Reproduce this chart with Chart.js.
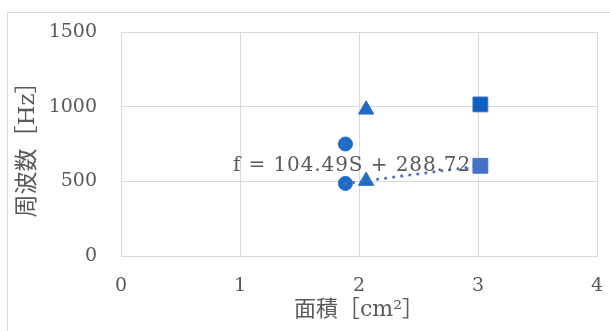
<!DOCTYPE html>
<html>
<head>
<meta charset="utf-8">
<script src="https://cdn.jsdelivr.net/npm/chart.js@4"></script>
<style>
  html, body { margin: 0; padding: 0; background: #fff; overflow: hidden; }
  #wrap { position: relative; width: 610px; height: 331px; }
  #frame { position: absolute; left: 7px; top: 12px; width: 640px; height: 360px; border: 1px solid #d9d9d9; }
  canvas { position: absolute; left: 0; top: 0; }
</style>
</head>
<body>
<div id="wrap">
  <div id="frame"></div>
  <canvas id="chart" width="610" height="331"></canvas>
</div>
<script>
// data
const xTicks = [0, 1, 2, 3, 4];
const yTicks = [0, 500, 1000, 1500];

const area = [1.886, 2.06, 3.02];          // 面積 [cm²]
const freqUpper = [750, 980, 1015];        // 周波数 [Hz]
const freqLower = [486, 503, 604];
const shapes = ['circle', 'triangle', 'rect'];

// trendline as printed on the chart
const slope = 104.49;
const intercept = 288.72;
const eqText = 'f = 104.49S + 288.72';

const fontFamily = "'DejaVu Serif', 'Noto Sans CJK JP', serif";
const textColor = '#595959';
const gridColor = '#d9d9d9';

const upperFill = ['#1f6bc6', '#1f6bc6', '#0c5fbf'];
const upperBorder = ['#1f6bc6', '#1f6bc6', '#4472c4'];
const lowerFill = ['#1f6bc6', '#1f6bc6', '#4472c4'];
const radii = [7, 8.8, 10.5];

const trendX = [Math.min(...area), Math.max(...area)];

const equationLabel = {
  id: 'equationLabel',
  afterDatasetsDraw(chart) {
    const ctx = chart.ctx;
    ctx.save();
    ctx.font = '20px ' + fontFamily;
    ctx.letterSpacing = '0.9px';
    ctx.fillStyle = textColor;
    ctx.textAlign = 'left';
    ctx.textBaseline = 'alphabetic';
    ctx.fillText(eqText, 233, 171);
    ctx.restore();
  }
};

new Chart(document.getElementById('chart'), {
  type: 'scatter',
  data: {
    datasets: [
      {
        label: 'trend',
        type: 'line',
        data: trendX.map(x => ({ x: x, y: slope * x + intercept })),
        borderColor: '#4472c4',
        borderWidth: 3,
        borderDash: [0.1, 8],
        borderCapStyle: 'round',
        pointRadius: 0,
        fill: false
      },
      {
        label: 'upper',
        data: area.map((x, i) => ({ x: x, y: freqUpper[i] })),
        pointStyle: shapes,
        pointRadius: radii,
        backgroundColor: upperFill,
        borderColor: upperBorder,
        borderWidth: 1
      },
      {
        label: 'lower',
        data: area.map((x, i) => ({ x: x, y: freqLower[i] })),
        pointStyle: shapes,
        pointRadius: radii,
        backgroundColor: lowerFill,
        borderColor: lowerFill,
        borderWidth: 1
      }
    ]
  },
  options: {
    responsive: false,
    animation: false,
    layout: { padding: { left: 8, top: 32, right: 13, bottom: 0 } },
    plugins: {
      legend: { display: false },
      tooltip: { enabled: false }
    },
    scales: {
      x: {
        type: 'linear',
        min: 0,
        max: 4,
        afterBuildTicks: axis => { axis.ticks = xTicks.map(v => ({ value: v })); },
        afterFit: axis => { axis.height = 75; axis.paddingLeft = 0; axis.paddingRight = 0; },
        grid: { color: gridColor, drawTicks: false },
        border: { color: gridColor },
        ticks: {
          color: textColor,
          padding: 19,
          font: { family: fontFamily, size: 19 },
          callback: v => String(v)
        },
        title: {
          display: true,
          text: '面積［cm²］',
          color: textColor,
          font: { family: fontFamily, size: 22 },
          padding: { top: 0, bottom: 8 }
        }
      },
      y: {
        type: 'linear',
        min: 0,
        max: 1500,
        afterBuildTicks: axis => { axis.ticks = yTicks.map(v => ({ value: v })); },
        afterFit: axis => { axis.width = 113; axis.paddingTop = 0; axis.paddingBottom = 0; },
        grid: { color: gridColor, drawTicks: false },
        border: { color: gridColor },
        ticks: {
          color: textColor,
          padding: 24,
          font: { family: fontFamily, size: 19 },
          callback: v => String(v)
        },
        title: {
          display: true,
          text: '周波数［Hz］',
          color: textColor,
          font: { family: fontFamily, size: 23 },
          padding: { top: 6, bottom: 0 }
        }
      }
    }
  },
  plugins: [equationLabel]
});
</script>
</body>
</html>
